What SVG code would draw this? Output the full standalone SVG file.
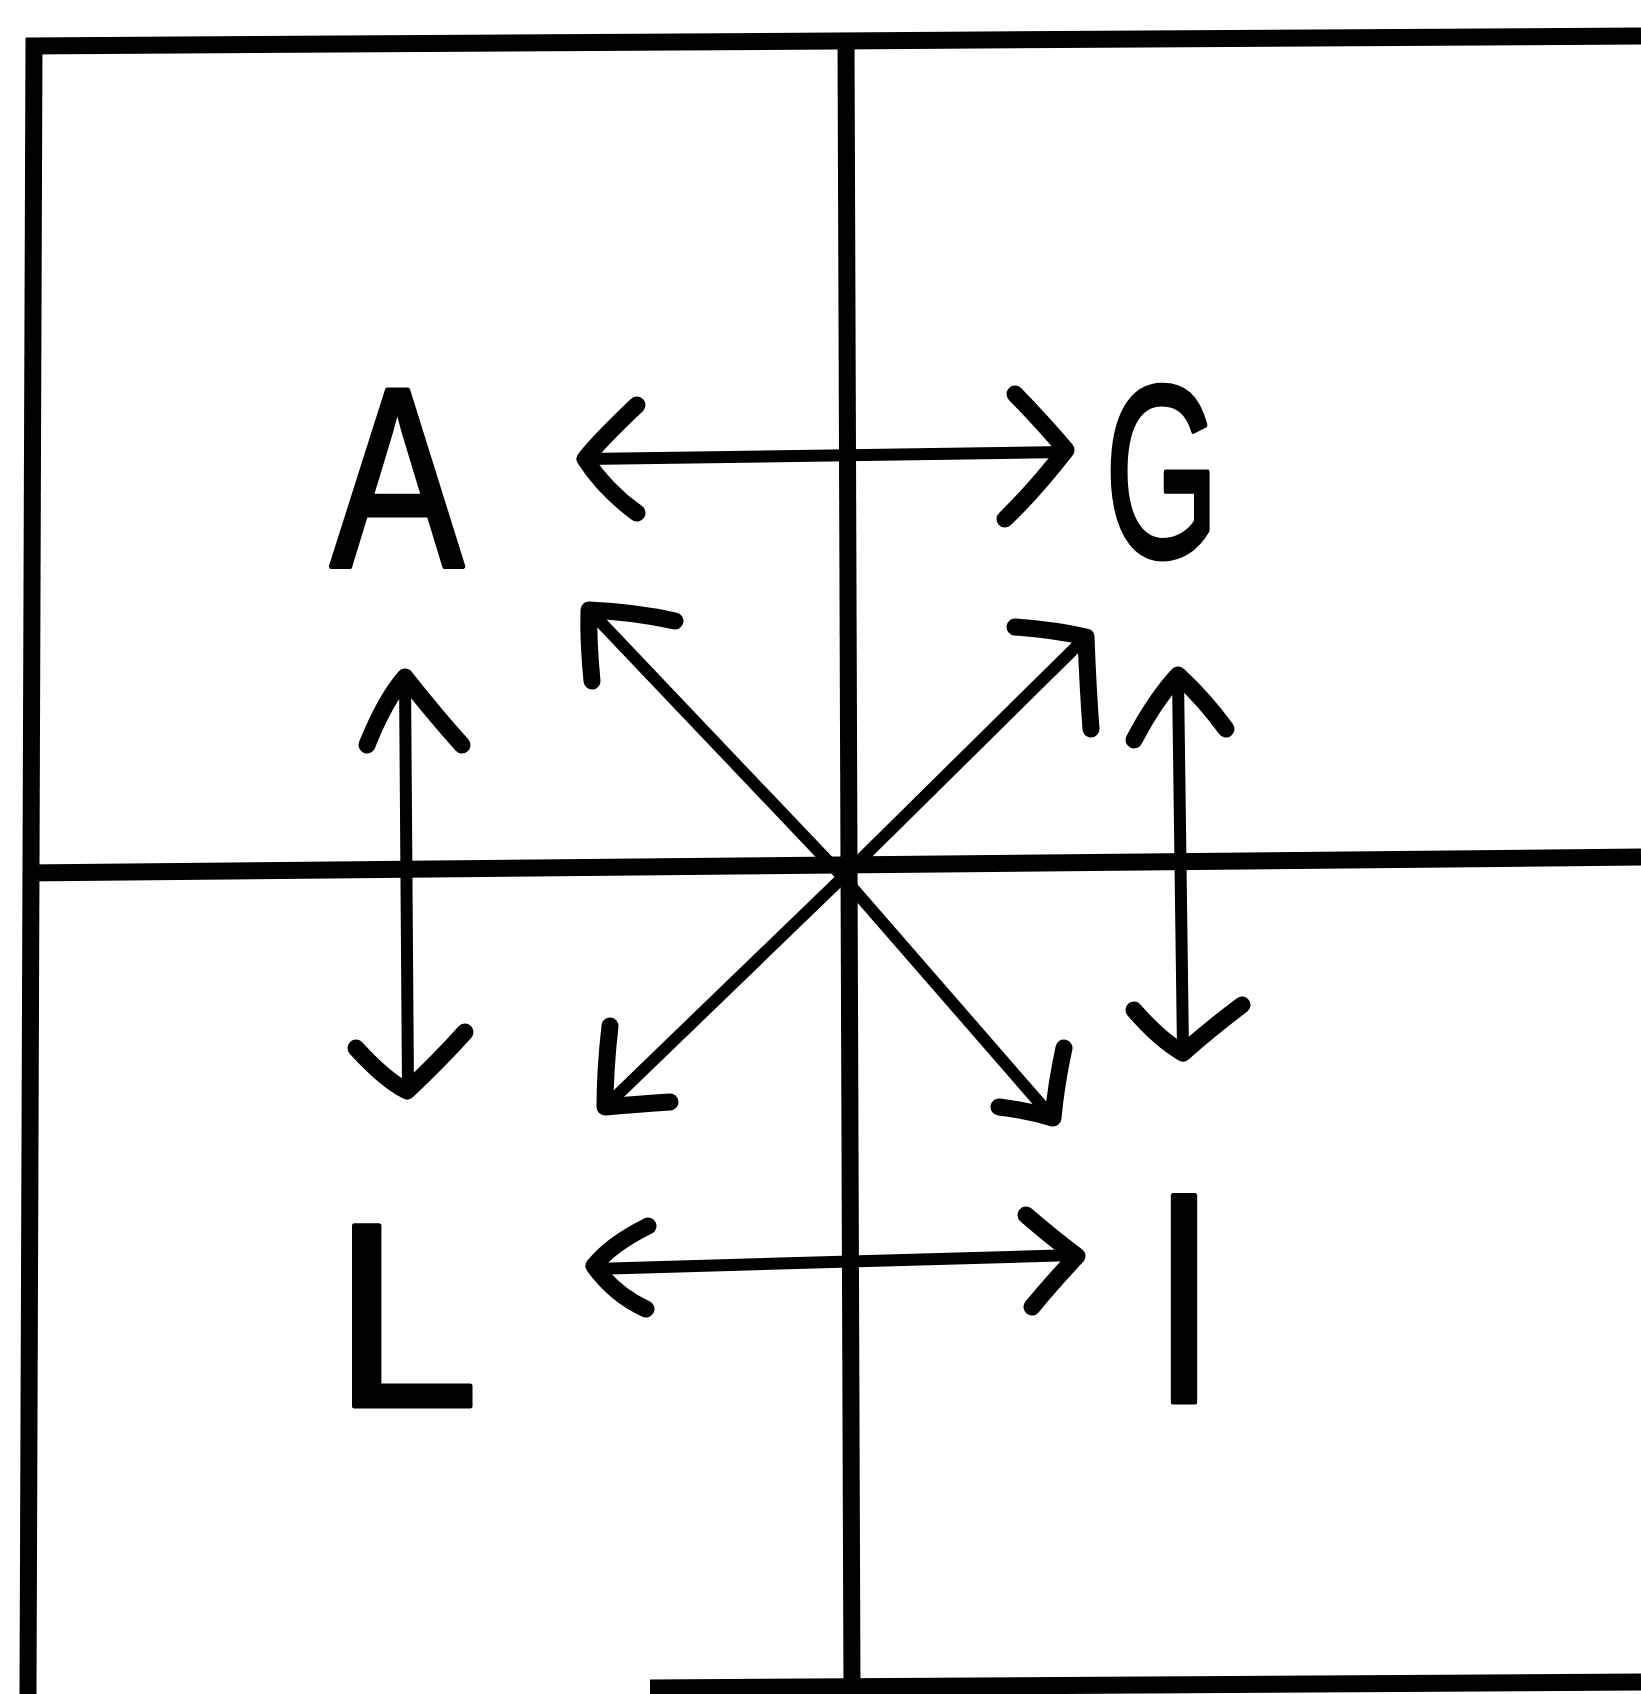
<svg xmlns="http://www.w3.org/2000/svg" width="1641" height="1694" viewBox="0 0 1641 1694">
<style>
.frame{fill:none;stroke:#000;stroke-width:17;stroke-linecap:butt}
.shaft{fill:none;stroke:#000;stroke-width:12;stroke-linecap:round}
.head{fill:none;stroke:#000;stroke-width:17;stroke-linecap:round;stroke-linejoin:round}
.lbl{font-family:"Liberation Sans",Arial,sans-serif;fill:#000;stroke:#000;stroke-width:5;stroke-linejoin:round}
</style>
<rect width="1641" height="1694" fill="#fff"/>
<g id="grid">
<path class="frame" d="M26,46 L1641,36"/>
<path class="frame" d="M34,38 L28,1694"/>
<path class="frame" d="M650,1688 L1641,1682"/>
<path class="frame" d="M846,40 L852,1694"/>
<path class="frame" d="M24,873 L1641,857"/>
</g>
<g id="node-A"><text class="lbl" font-size="256" text-anchor="middle" transform="translate(397,567) scale(0.78,1)">A</text></g>
<g id="node-G"><text class="lbl" font-size="245" text-anchor="middle" transform="translate(1162,557) scale(0.6,1)">G</text></g>
<g id="node-L"><text class="lbl" font-size="262" transform="translate(333,1406)">L</text></g>
<g id="node-I"><text class="lbl" font-size="300" text-anchor="middle" transform="translate(1184,1402) scale(0.8,1)">I</text></g>
<g id="connectors">
<path class="shaft" d="M585,459 L1064,452"/>
<path class="head" d="M637,405 Q600,440 585,459 Q605,490 637,513"/>
<path class="head" d="M1015,394 Q1045,425 1066,450 Q1035,490 1005,519"/>
<path class="shaft" d="M594,1269 L1075,1255"/>
<path class="head" d="M648,1226 Q610,1245 594,1266 Q615,1295 646,1309"/>
<path class="head" d="M1026,1215 Q1055,1240 1077,1256 Q1050,1285 1032,1307"/>
<path class="shaft" d="M405,677 L408,1089"/>
<path class="head" d="M367,745 Q385,700 405,677 Q435,715 462,745"/>
<path class="head" d="M356,1048 Q385,1080 407,1091 Q440,1060 465,1032"/>
<path class="shaft" d="M1178,677 L1183,1051"/>
<path class="head" d="M1134,740 Q1155,700 1178,675 Q1205,700 1226,729"/>
<path class="head" d="M1134,1010 Q1160,1040 1183,1053 Q1215,1025 1242,1005"/>
<path class="shaft" d="M843,877 L591,612"/>
<path class="head" d="M592,681 Q588,640 589,610 Q635,612 675,621"/>
<path class="shaft" d="M843,877 L1084,639"/>
<path class="head" d="M1015,627 Q1055,630 1086,637 Q1088,690 1091,729"/>
<path class="shaft" d="M843,877 L607,1105"/>
<path class="head" d="M610,1026 Q605,1070 605,1107 Q640,1104 670,1102"/>
<path class="shaft" d="M843,877 L1051,1116"/>
<path class="head" d="M1064,1048 Q1056,1085 1053,1118 Q1025,1110 999,1107"/>
</g>
</svg>
